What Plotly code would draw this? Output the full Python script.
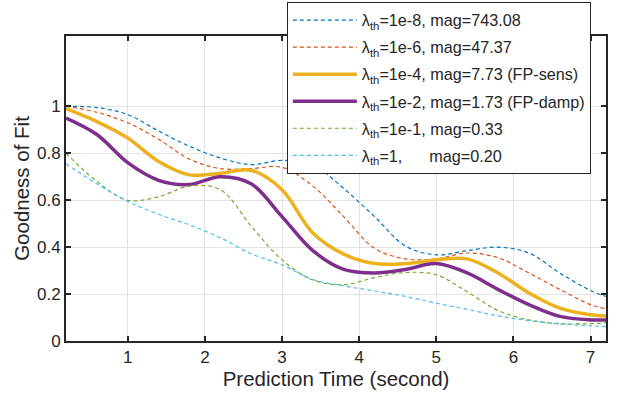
import plotly.graph_objects as go

x = [0.2, 0.6, 1.0, 1.4, 1.8, 2.2, 2.6, 3.0, 3.4, 3.8, 4.2, 4.6, 5.0, 5.4, 5.8, 6.2, 6.6, 7.0, 7.2]

y_1e8 = [1.0, 0.995, 0.965, 0.895, 0.83, 0.78, 0.752, 0.77, 0.75, 0.65, 0.53, 0.405, 0.367, 0.385, 0.40, 0.375, 0.29, 0.215, 0.19]
y_1e6 = [1.0, 0.975, 0.93, 0.86, 0.775, 0.735, 0.735, 0.74, 0.66, 0.53, 0.395, 0.35, 0.35, 0.375, 0.355, 0.29, 0.22, 0.155, 0.137]
y_1e4 = [0.99, 0.935, 0.865, 0.765, 0.708, 0.715, 0.728, 0.645, 0.46, 0.37, 0.33, 0.33, 0.346, 0.35, 0.29, 0.205, 0.14, 0.112, 0.107]
y_1e2 = [0.95, 0.88, 0.76, 0.685, 0.667, 0.70, 0.67, 0.53, 0.385, 0.305, 0.29, 0.305, 0.33, 0.29, 0.22, 0.155, 0.105, 0.09, 0.09]
y_1e1 = [0.80, 0.68, 0.60, 0.615, 0.66, 0.645, 0.49, 0.346, 0.26, 0.24, 0.27, 0.292, 0.282, 0.21, 0.13, 0.09, 0.074, 0.074, 0.078]
y_1 = [0.755, 0.67, 0.595, 0.54, 0.495, 0.44, 0.372, 0.325, 0.262, 0.235, 0.213, 0.19, 0.161, 0.135, 0.107, 0.087, 0.073, 0.065, 0.061]

names = [
    "λ<sub>th</sub>=1e-8, mag=743.08",
    "λ<sub>th</sub>=1e-6, mag=47.37",
    "λ<sub>th</sub>=1e-4, mag=7.73 (FP-sens)",
    "λ<sub>th</sub>=1e-2, mag=1.73 (FP-damp)",
    "λ<sub>th</sub>=1e-1, mag=0.33",
    "λ<sub>th</sub>=1,\u00a0\u00a0\u00a0\u00a0\u00a0\u00a0mag=0.20",
]
series = [y_1e8, y_1e6, y_1e4, y_1e2, y_1e1, y_1]
colors = ["#0072BD", "#D95319", "#EDB120", "#7E2F8E", "#77AC30", "#4DBEEE"]
widths = [1.2, 1.2, 3.5, 3.5, 1.2, 1.2]
dashes = ["4px,3px", "4px,3px", "solid", "solid", "4px,3px", "4px,3px"]

fig = go.Figure()
for i, (n, ys, c, w, d) in enumerate(zip(names, series, colors, widths, dashes)):
    fig.add_trace(go.Scatter(x=x, y=ys, mode="lines", name=n, legendgroup=f"g{i}",
                             line=dict(color=c, width=w, dash=d, shape="spline", smoothing=1.0)))

axis_common = dict(
    showline=True, linecolor="#262626", linewidth=1.8, mirror="ticks",
    ticks="inside", ticklen=5, tickcolor="#262626", tickwidth=1.5,
    showgrid=True, gridcolor="#E3E3E3", gridwidth=1, zeroline=False,
    tickfont=dict(family="Liberation Sans, Arial", size=17, color="#262626"),
)

fig.update_layout(
    width=619, height=401,
    margin=dict(l=66, r=13, t=2, b=60),
    paper_bgcolor="white", plot_bgcolor="white",
    font=dict(family="Liberation Sans, Arial", color="#262626"),
    xaxis=dict(range=[0.2, 7.2], tickvals=[1, 2, 3, 4, 5, 6, 7],
               title=dict(text="Prediction Time (second)", font=dict(size=20.5, color="#262626"), standoff=2),
               **axis_common),
    yaxis=dict(range=[0, 1.3], tickvals=[0, 0.2, 0.4, 0.6, 0.8, 1.0], domain=[0, 0.8997],
               ticktext=["0", "0.2", "0.4", "0.6", "0.8", "1"],
               title=dict(text="Goodness of Fit", font=dict(size=20.5, color="#262626"), standoff=2),
               **axis_common),
    legend=dict(x=0.409, y=1.0, xanchor="left", yanchor="top",
                bgcolor="white", bordercolor="#262626", borderwidth=1,
                font=dict(family="Liberation Sans, Arial", size=16.2, color="#262626"),
                tracegroupgap=3, itemwidth=64),
    showlegend=True,
)

fig.write_html("out.html")
